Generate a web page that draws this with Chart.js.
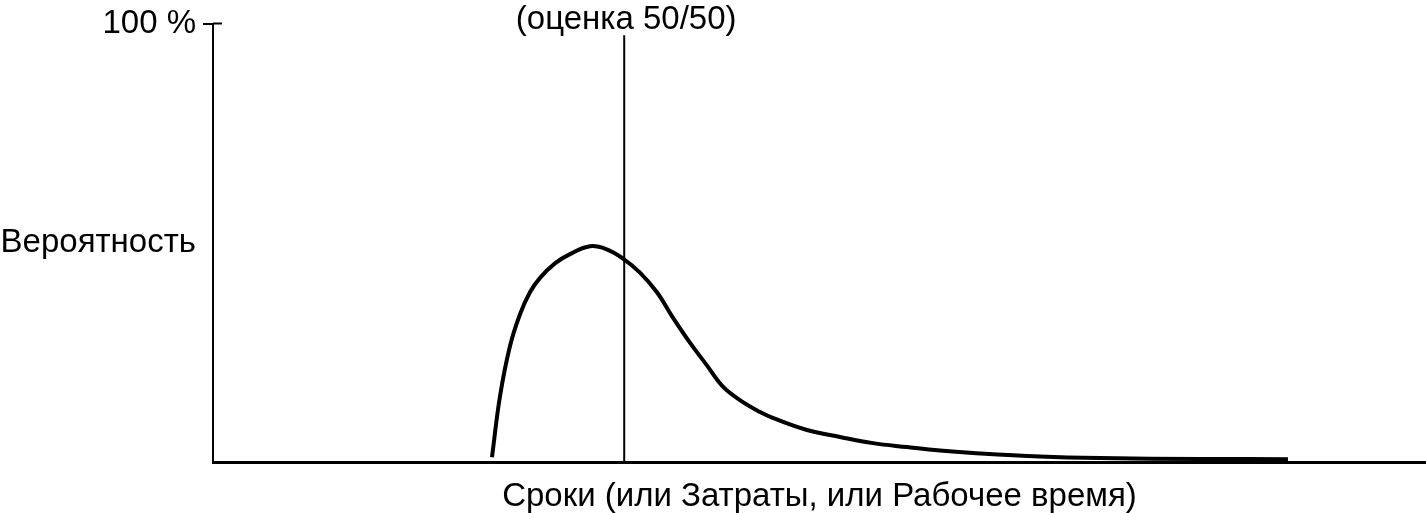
<!DOCTYPE html>
<html>
<head>
<meta charset="utf-8">
<script src="https://cdn.jsdelivr.net/npm/chart.js@4"></script>
<style>
  body { margin: 0; background: #fff; }
  #wrap { width: 1426px; height: 513px; }
</style>
</head>
<body>
<div id="wrap"><canvas id="myChart" width="1426" height="513"></canvas></div>
<script>
// curve (x: 0..100 along the axis, y: 0..100 %)
let curveX = [23.0, 23.66, 24.48, 25.31, 26.13, 26.96, 28.19, 29.43, 31.08, 32.46, 33.8, 35.2, 36.6, 37.9, 39.3, 40.7, 42.0, 43.5, 45.1, 46.2, 48.97, 51.69, 54.41, 57.21, 59.93, 62.65, 68.18, 73.12, 81.37, 88.62];
let curveY = [1.1, 15.0, 26.4, 33.7, 38.7, 42.0, 45.3, 47.4, 49.2, 48.5, 46.4, 43.2, 38.7, 33.0, 27.3, 22.1, 17.3, 14.0, 11.4, 10.0, 7.3, 5.7, 4.3, 3.4, 2.6, 2.05, 1.25, 0.9, 0.7, 0.65];

let estimateX = 33.9;      // the 50/50 line
let estimateTop = 97.3;
let estimateLabel = '(оценка 50/50)';

let yTicks = [50, 100];
let yTickLabels = {50: 'Вероятность', 100: '100 %'};
let xTitle = 'Сроки (или Затраты, или Рабочее время)';

let FONT = 'Liberation Sans, Arial, sans-serif';
let SIZE = 33;

let extras = {
    id: 'extras',
    afterDraw(chart) {
        let c = chart.ctx, x = chart.scales.x, y = chart.scales.y;
        c.save();
        // inner half of the 100 % tick
        c.strokeStyle = '#000';
        c.lineWidth = 2;
        let ty = y.getPixelForValue(100);
        c.beginPath();
        c.moveTo(x.left, ty);
        c.lineTo(x.left + 9, ty);
        c.stroke();
        // label above the 50/50 line
        c.fillStyle = '#000';
        c.font = SIZE + 'px ' + FONT;
        c.textAlign = 'center';
        c.textBaseline = 'middle';
        c.fillText(estimateLabel, x.getPixelForValue(estimateX) + 2, 20);
        c.restore();
    }
};

let ctx = document.getElementById('myChart').getContext('2d');

let myChart = new Chart(ctx, {
    type: 'line',
    data: {
        datasets: [{
            data: curveX.map((v, i) => ({x: v, y: curveY[i]})),
            borderColor: '#000',
            borderWidth: 4,
            pointRadius: 0,
            tension: 0.4,
            fill: false
        }, {
            data: [{x: estimateX, y: 0}, {x: estimateX, y: estimateTop}],
            borderColor: '#000',
            borderWidth: 2,
            pointRadius: 0,
            fill: false
        }]
    },
    options: {
        responsive: false,
        animation: false,
        layout: {padding: {top: 23, right: 0, left: 0, bottom: 0}},
        plugins: {legend: {display: false}, tooltip: {enabled: false}},
        scales: {
            x: {
                type: 'linear',
                min: 0,
                max: 100,
                grid: {display: false},
                border: {display: true, color: '#000', width: 3},
                ticks: {display: false},
                title: {
                    display: true,
                    text: xTitle,
                    color: '#000',
                    font: {family: FONT, size: SIZE, lineHeight: 1.0},
                    padding: {top: 0, bottom: 0}
                },
                afterFit(scale) { scale.height = 51; }
            },
            y: {
                min: 0,
                max: 100,
                afterBuildTicks(scale) { scale.ticks = yTicks.map(v => ({value: v})); },
                grid: {
                    display: true,
                    drawOnChartArea: false,
                    drawTicks: true,
                    tickLength: 10,
                    lineWidth: 2,
                    color: c => (c.tick && c.tick.value === 100) ? '#000' : 'rgba(0,0,0,0)'
                },
                border: {display: true, color: '#000', width: 2},
                ticks: {
                    color: '#000',
                    padding: 7,
                    font: {family: FONT, size: SIZE, lineHeight: 1.0},
                    callback: v => yTickLabels[v]
                },
                afterFit(scale) { scale.width = 213; }
            }
        }
    },
    plugins: [extras]
});
</script>
</body>
</html>
